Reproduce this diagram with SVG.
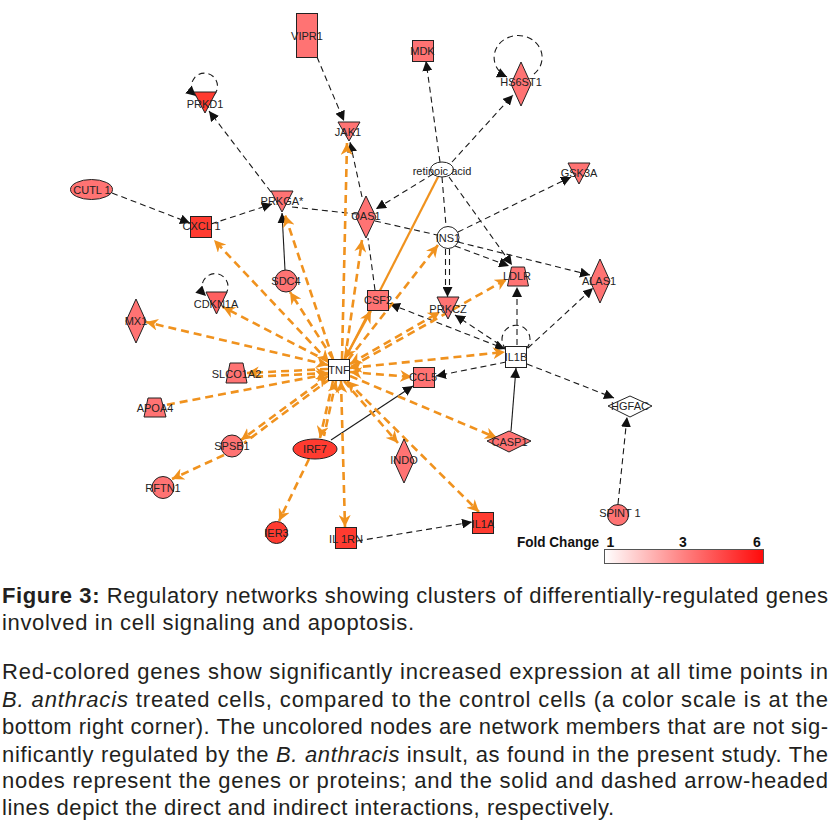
<svg xmlns="http://www.w3.org/2000/svg" width="833" height="834" viewBox="0 0 833 834">
<style>
.bk{fill:none;stroke:#1a1a1a;stroke-width:1.1;stroke-dasharray:6 4}
.bs{fill:none;stroke:#1a1a1a;stroke-width:1.1}
.or{fill:none;stroke:#f0921e;stroke-width:2.6;stroke-dasharray:8 5}
.os{fill:none;stroke:#f0921e;stroke-width:2.2}
.ab{marker-end:url(#ab)}
.ao{marker-end:url(#ao)}
.so{marker-start:url(#ao)}
.sb{marker-start:url(#ab)}
.n{stroke:#222;stroke-width:1}
.lt{fill:#ff7373}
.dk{fill:#ff3b30}
.md{fill:#ff6060}
.wh{fill:#fff}
.lb{font-family:"Liberation Sans",Arial,sans-serif;font-size:11px;fill:#222;text-anchor:middle}
.cap{font-family:"Liberation Sans",Arial,sans-serif;font-size:22px;fill:#231f20}
.lg{font-family:"Liberation Sans",Arial,sans-serif;font-size:14px;font-weight:bold;fill:#111}
</style>
<defs>
<marker id="ab" viewBox="0 0 10 10" refX="10" refY="5" markerWidth="10" markerHeight="10" markerUnits="userSpaceOnUse" orient="auto-start-reverse"><path d="M0,0 L10,5 L0,10 z" fill="#111"/></marker>
<marker id="ao" viewBox="0 0 10 10" refX="10" refY="5" markerWidth="12" markerHeight="12" markerUnits="userSpaceOnUse" orient="auto-start-reverse"><path d="M0,0 L10,5 L0,10 L3,5 z" fill="#f0921e"/></marker>
<linearGradient id="fc" x1="0" x2="1" y1="0" y2="0"><stop offset="0" stop-color="#ffffff"/><stop offset="0.5" stop-color="#ff8080"/><stop offset="1" stop-color="#ff0a0a"/></linearGradient>
</defs>
<rect width="833" height="834" fill="#fff"/>
<g id="connectors">
<path class="bk ab" d="M317,57 L344,121"/>
<path class="bk ab" d="M271,192 L209,111"/>
<path class="bk ab" d="M112,193 L190,223"/>
<path class="bk ab" d="M211,224 L272,204"/>
<path class="bk" d="M292,207 L357,214"/>
<path class="bk" d="M375,221 L437,235"/>
<path class="bk ab" d="M458,242 L590,275"/>
<path class="bk ab" d="M455,246 L509,266"/>
<path class="bk ab" d="M449,177 L512,265"/>
<path class="bk ab" d="M440,162 L426,61"/>
<path class="bk ab" d="M452,162 L513,95"/>
<path class="bk ab" d="M433,174 L376,209"/>
<path class="bk" d="M442,177 L446,226"/>
<path class="bk ab" d="M458,232 L571,177"/>
<path class="bk" d="M445.5,249 L445.5,290"/>
<path class="bk" d="M449.5,249 L449.5,290"/>
<path class="bs ab" d="M447.5,288 L447.5,297"/>
<path class="bk ab" d="M517,345 L517,287"/>
<path class="bk ab" d="M528,348 L593,288"/>
<path class="bk ab sb" d="M390,304 L505,349"/>
<path class="bk ab" d="M508,350 L455,315"/>
<path class="bk ab" d="M506,362 L436,376"/>
<path class="bk ab" d="M527,364 L614,398"/>
<path class="bk ab" d="M618,504 L627,417"/>
<path class="bs ab" d="M511,431 L516,368"/>
<path class="bs ab" d="M331,440 L413,386"/>
<path class="bs ab" d="M285,270 L282,213"/>
<path class="bk ab" d="M362,197 L350,142"/>
<path class="bk" d="M375,290 L368,238"/>
<path class="bk ab" d="M357,541 L472,522"/>
<path class="bk ab" d="M214,95 A13,13 0 1,0 196,96"/>
<path class="bk ab" d="M534,74 A24,22 0 1,0 507,77"/>
<path class="bk ab" d="M225,295 A13,13 0 1,0 206,296"/>
<path class="bk" d="M526,349 A14,14 0 1,0 506,349"/>
<path class="or ao so" d="M329,362 L214,240"/>
<path class="or ao" d="M333,359 L285,215"/>
<path class="or ao" d="M342,359 L347,143"/>
<path class="or ao" d="M345,359 L362,240"/>
<path class="os ao" d="M438,177 L345,359"/>
<path class="os ao" d="M344,360 L371,311"/>
<path class="or ao" d="M348,360 L438,245"/>
<path class="or ao so" d="M350,364 L440,312"/>
<path class="or ao" d="M351,367 L507,279"/>
<path class="or ao so" d="M350,368 L505,352"/>
<path class="or ao so" d="M350,372 L412,377"/>
<path class="or ao" d="M350,376 L497,438"/>
<path class="or ao so" d="M347,381 L479,512"/>
<path class="or ao" d="M344,381 L398,443"/>
<path class="or ao so" d="M341,381 L345,527"/>
<path class="or ao" d="M333,381 L320,438"/>
<path class="or so" d="M336,381 L324,436"/>
<path class="or ao" d="M309,459 L279,521"/>
<path class="or ao so" d="M328,376 L241,440"/>
<path class="or" d="M330,379 L244,443"/>
<path class="or ao" d="M224,455 L172,479"/>
<path class="or so" d="M328,374 L166,405"/>
<path class="or ao" d="M328,369 L247,373"/>
<path class="or so" d="M328,373 L250,377"/>
<path class="or ao so" d="M328,365 L146,322"/>
<path class="or ao" d="M329,362 L223,307"/>
<path class="or ao" d="M333,359 L290,292"/>
</g>
<g id="VIPR1"><rect class="n lt" x="296.5" y="13.5" width="21" height="44"/><text class="lb" x="307" y="40">VIPR1</text></g>
<g id="MDK"><rect class="n lt" x="412.5" y="40.5" width="21" height="21"/><text class="lb" x="422.5" y="55">MDK</text></g>
<g id="HS6ST1"><polygon class="n lt" points="521,62 531,84 521,106 511,84"/><text class="lb" x="521" y="86">HS6ST1</text></g>
<g id="PRKD1"><polygon class="n dk" points="194,92 216,92 205,113"/><text class="lb" x="205" y="108">PRKD1</text></g>
<g id="JAK1"><polygon class="n lt" points="338,122 360,122 349,141"/><text class="lb" x="348" y="136">JAK1</text></g>
<g id="retinoic_acid"><ellipse class="n wh" cx="442" cy="169.5" rx="11.5" ry="7.5"/><text class="lb" x="442" y="174.5">retinoic acid</text></g>
<g id="GSK3A"><polygon class="n lt" points="568,163 590,163 579,184"/><text class="lb" x="579" y="177">GSK3A</text></g>
<g id="CUTL1"><ellipse class="n lt" cx="91.5" cy="189.5" rx="21" ry="10"/><text class="lb" x="92" y="193.5">CUTL 1</text></g>
<g id="CXCL1"><rect class="n dk" x="190.5" y="216.5" width="21" height="21"/><text class="lb" x="201.5" y="230">CXCL 1</text></g>
<g id="PRKGA"><polygon class="n lt" points="271,191 293,191 282,212"/><text class="lb" x="282" y="205">PRKGA*</text></g>
<g id="OAS1"><polygon class="n lt" points="366,196 376,217 366,238 356,217"/><text class="lb" x="366" y="220">OAS1</text></g>
<g id="INS1"><circle class="n wh" cx="448" cy="237.5" r="11"/><text class="lb" x="448" y="241.5">INS1</text></g>
<g id="LDLR"><polygon class="n lt" points="511.5,267 524.5,267 528.5,286 507.5,286"/><text class="lb" x="517" y="280">LDLR</text></g>
<g id="ALAS1"><polygon class="n lt" points="600,259 610,281 600,303 590,281"/><text class="lb" x="599" y="285">ALAS1</text></g>
<g id="SDC4"><circle class="n lt" cx="286" cy="281" r="11"/><text class="lb" x="286" y="285">SDC4</text></g>
<g id="CDKN1A"><polygon class="n md" points="206,292 227,292 216.5,314"/><text class="lb" x="216" y="308">CDKN1A</text></g>
<g id="CSF2"><rect class="n lt" x="367.5" y="290.5" width="21" height="20"/><text class="lb" x="378" y="304">CSF2</text></g>
<g id="PRKCZ"><polygon class="n lt" points="437,297 459,297 448,319"/><text class="lb" x="448" y="313">PRKCZ</text></g>
<g id="MX1"><polygon class="n lt" points="136,299 146,321 136,343 126,321"/><text class="lb" x="136" y="325">MX1</text></g>
<g id="IL1B"><rect class="n wh" x="505.5" y="346.5" width="21" height="21"/><text class="lb" x="516" y="361">IL1B</text></g>
<g id="TNF"><rect class="n wh" x="328.5" y="359.5" width="21" height="21"/><text class="lb" x="339" y="374">TNF</text></g>
<g id="SLCO1A2"><polygon class="n lt" points="230,363 243,363 247,383 226,383"/><text class="lb" x="236.5" y="378">SLCO1A2</text></g>
<g id="CCL5"><rect class="n lt" x="413.5" y="367.5" width="21" height="20"/><text class="lb" x="423" y="381">CCL5</text></g>
<g id="APOA4"><polygon class="n lt" points="148,398 161,398 166,417 144,417"/><text class="lb" x="155" y="412">APOA4</text></g>
<g id="HGFAC"><polygon class="n wh" points="608,406 630,396 652,406 630,417"/><text class="lb" x="630" y="410">HGFAC</text></g>
<g id="CASP1"><polygon class="n lt" points="487,441 509,431 531,441 509,452"/><text class="lb" x="509.5" y="445.5">CASP1</text></g>
<g id="SPSB1"><circle class="n lt" cx="232" cy="446" r="11"/><text class="lb" x="232" y="450">SPSB1</text></g>
<g id="IRF7"><ellipse class="n dk" cx="315" cy="449" rx="22" ry="10"/><text class="lb" x="315" y="453">IRF7</text></g>
<g id="INDO"><polygon class="n lt" points="404,439 414,461 404,483 394,461"/><text class="lb" x="404" y="464">INDO</text></g>
<g id="RFTN1"><circle class="n lt" cx="163" cy="487.5" r="11"/><text class="lb" x="163" y="491.5">RFTN1</text></g>
<g id="SPINT1"><circle class="n lt" cx="618" cy="515" r="10.5"/><text class="lb" x="620" y="517">SPINT 1</text></g>
<g id="IER3"><circle class="n dk" cx="276.5" cy="532.5" r="11"/><text class="lb" x="276.5" y="536.5">IER3</text></g>
<g id="IL1RN"><rect class="n dk" x="335.5" y="527.5" width="21" height="21"/><text class="lb" x="346" y="543">IL 1RN</text></g>
<g id="IL1A"><rect class="n dk" x="472.5" y="512.5" width="21" height="21"/><text class="lb" x="483" y="527.5">IL1A</text></g>
<g id="legend">
<text class="lg" x="517" y="547" textLength="82" lengthAdjust="spacingAndGlyphs">Fold Change</text>
<text class="lg" x="610.5" y="547" text-anchor="middle">1</text>
<text class="lg" x="683" y="547" text-anchor="middle">3</text>
<text class="lg" x="757" y="547" text-anchor="middle">6</text>
<rect x="604.5" y="549.5" width="159" height="14" fill="url(#fc)" stroke="#555" stroke-width="1"/>
</g>
<g id="caption">
<text class="cap" x="2" y="603" textLength="826"><tspan font-weight="bold">Figure 3:</tspan> Regulatory networks showing clusters of differentially-regulated genes</text>
<text class="cap" x="2" y="630" textLength="412">involved in cell signaling and apoptosis.</text>
<text class="cap" x="2" y="679" textLength="826">Red-colored genes show significantly increased expression at all time points in</text>
<text class="cap" x="2" y="707" textLength="826"><tspan font-style="italic">B. anthracis</tspan> treated cells, compared to the control cells (a color scale is at the</text>
<text class="cap" x="2" y="734" textLength="826">bottom right corner). The uncolored nodes are network members that are not sig-</text>
<text class="cap" x="2" y="762" textLength="826">nificantly regulated by the <tspan font-style="italic">B. anthracis</tspan> insult, as found in the present study. The</text>
<text class="cap" x="2" y="788" textLength="826">nodes represent the genes or proteins; and the solid and dashed arrow-headed</text>
<text class="cap" x="2" y="815" textLength="612">lines depict the direct and indirect interactions, respectively.</text>
</g>
</svg>
